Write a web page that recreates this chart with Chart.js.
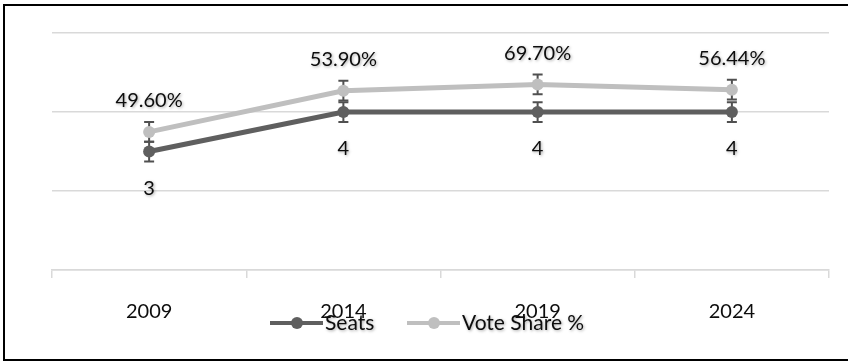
<!DOCTYPE html>
<html>
<head>
<meta charset="utf-8">
<script src="https://cdn.jsdelivr.net/npm/chart.js@4.4.1/dist/chart.umd.min.js"></script>
<style>
    body { margin: 0; background: #fff; overflow: hidden; }
    #wrap { position: relative; width: 848px; height: 362px; }
    #frame { position: absolute; left: 3px; top: 4px; width: 860px; height: 353px; border: 2px solid #000; pointer-events: none; }
</style>
</head>
<body>
<div id="wrap">
    <canvas id="myChart1" width="848" height="362"></canvas>
    <div id="frame"></div>
</div>
<script>
const years = ['2009', '2014', '2019', '2024'];
const seats = [3, 4, 4, 4];
const voteShare = [0.496, 0.539, 0.697, 0.5644];
const errorAmount = 0.25;
const yMin = 0, yMax = 6, yStep = 2;

const seatsColor = '#5f5f5f';
const voteColor = '#bfbfbf';
const textColor = '#0d0d0d';
const fontFamily = 'Lato, "Open Sans", sans-serif';

function shadowText(ctx, text, x, y) {
    ctx.save();
    ctx.shadowColor = 'rgba(0, 0, 0, 0.35)';
    ctx.shadowBlur = 3;
    ctx.shadowOffsetX = 1;
    ctx.shadowOffsetY = 1;
    ctx.fillText(text, x, y);
    ctx.restore();
}

// error bars drawn under the markers
const errorBars = {
    id: 'errorBars',
    beforeDatasetsDraw(chart) {
        const ctx = chart.ctx;
        const y = chart.scales.y;
        ctx.save();
        ctx.strokeStyle = '#505050';
        ctx.lineWidth = 2;
        chart.data.datasets.forEach((ds, i) => {
            chart.getDatasetMeta(i).data.forEach(pt => {
                const v = y.getValueForPixel(pt.y);
                const top = y.getPixelForValue(v + errorAmount);
                const bot = y.getPixelForValue(v - errorAmount);
                ctx.beginPath();
                ctx.moveTo(pt.x, top); ctx.lineTo(pt.x, bot);
                ctx.moveTo(pt.x - 5, top); ctx.lineTo(pt.x + 5, top);
                ctx.moveTo(pt.x - 5, bot); ctx.lineTo(pt.x + 5, bot);
                ctx.stroke();
            });
        });
        ctx.restore();
    }
};

const dataLabels = {
    id: 'dataLabels',
    afterDatasetsDraw(chart) {
        const ctx = chart.ctx;
        ctx.save();
        ctx.font = '20px ' + fontFamily;
        ctx.fillStyle = textColor;
        ctx.textAlign = 'center';
        ctx.textBaseline = 'middle';
        chart.getDatasetMeta(0).data.forEach((pt, i) => {
            shadowText(ctx, String(seats[i]), pt.x, pt.y + 37);
        });
        chart.getDatasetMeta(1).data.forEach((pt, i) => {
            shadowText(ctx, (voteShare[i] * 100).toFixed(2) + '%', pt.x, pt.y - 31);
        });
        ctx.restore();
    }
};

const bottomLegend = {
    id: 'bottomLegend',
    afterDraw(chart) {
        const ctx = chart.ctx;
        const items = [
            { label: 'Seats', color: seatsColor, x: 270 },
            { label: 'Vote Share %', color: voteColor, x: 407 }
        ];
        const ly = 323;
        ctx.save();
        ctx.font = '21px ' + fontFamily;
        ctx.textBaseline = 'middle';
        ctx.textAlign = 'left';
        items.forEach(it => {
            ctx.strokeStyle = it.color;
            ctx.lineWidth = 4;
            ctx.beginPath();
            ctx.moveTo(it.x, ly); ctx.lineTo(it.x + 53, ly);
            ctx.stroke();
            ctx.fillStyle = it.color;
            ctx.beginPath();
            ctx.arc(it.x + 27, ly, 6, 0, Math.PI * 2);
            ctx.fill();
            ctx.fillStyle = textColor;
            shadowText(ctx, it.label, it.x + 55, ly);
        });
        ctx.restore();
    }
};

const ctx = document.getElementById('myChart1').getContext('2d');
new Chart(ctx, {
    type: 'line',
    data: {
        labels: years,
        datasets: [{
            label: 'Seats',
            data: seats,
            borderColor: seatsColor,
            backgroundColor: seatsColor,
            borderWidth: 5,
            pointRadius: 6,
            pointBorderWidth: 0,
            pointBackgroundColor: seatsColor,
            tension: 0
        }, {
            label: 'Vote Share %',
            data: voteShare,
            borderColor: voteColor,
            backgroundColor: voteColor,
            borderWidth: 5,
            pointRadius: 6,
            pointBorderWidth: 0,
            pointBackgroundColor: voteColor,
            tension: 0
        }]
    },
    options: {
        responsive: false,
        animation: false,
        devicePixelRatio: 1,
        layout: { padding: { top: 33, right: 19, left: 52, bottom: 0 } },
        plugins: {
            legend: { display: false },
            tooltip: { enabled: false }
        },
        scales: {
            x: {
                offset: true,
                grid: {
                    offset: true,
                    drawOnChartArea: false,
                    drawTicks: true,
                    tickLength: 8,
                    color: '#d9d9d9',
                    lineWidth: 1.5
                },
                border: { color: '#d9d9d9', width: 1.5 },
                ticks: {
                    padding: 22,
                    color: textColor,
                    font: { size: 20, family: fontFamily }
                },
                afterFit(scale) { scale.height = 92; }
            },
            y: {
                stacked: true,
                min: yMin,
                max: yMax,
                ticks: { display: false, stepSize: yStep },
                grid: { color: '#d9d9d9', lineWidth: 1.5, drawTicks: false },
                border: { display: false }
            }
        }
    },
    plugins: [errorBars, dataLabels, bottomLegend]
});
</script>
</body>
</html>
